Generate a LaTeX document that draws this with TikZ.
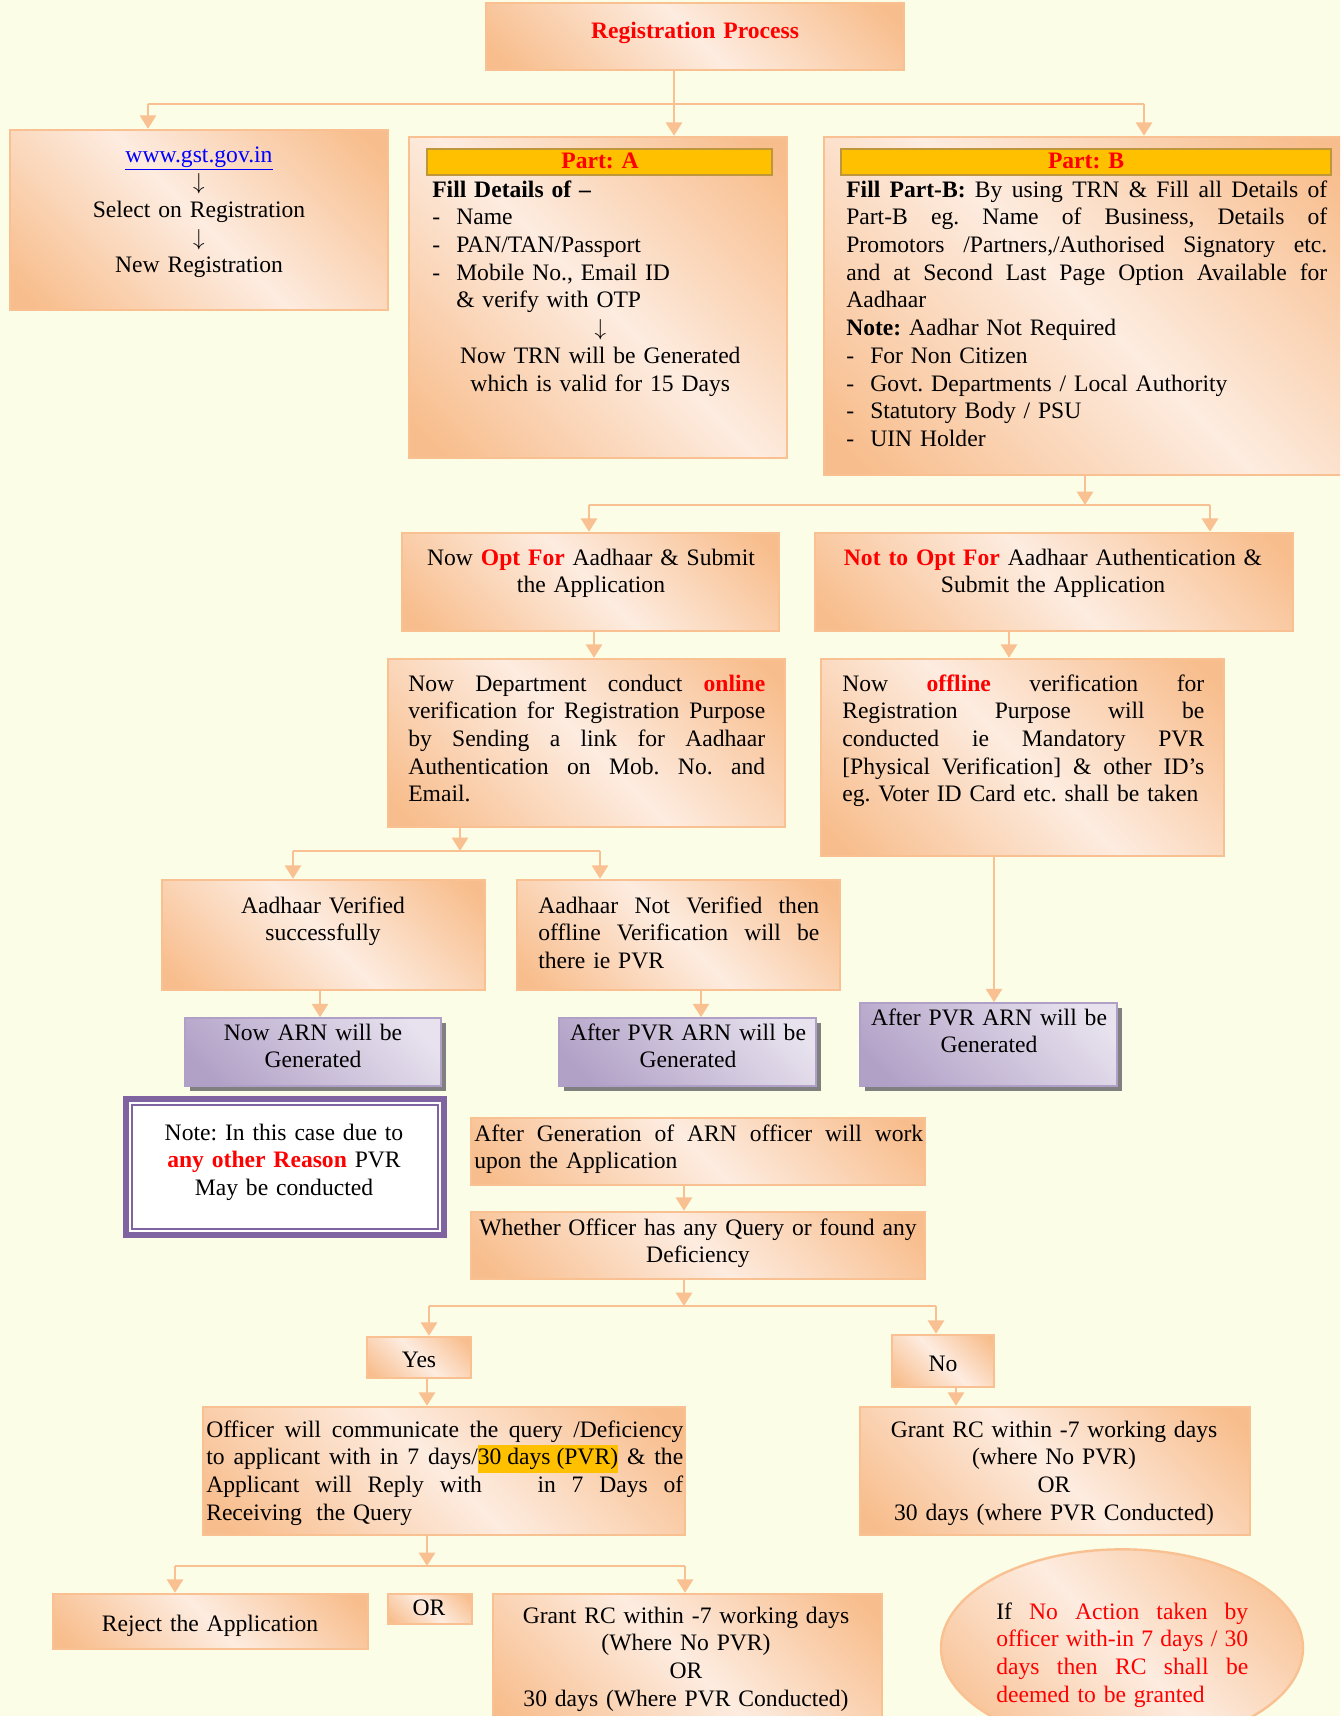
\documentclass[tikz,border=0pt]{standalone}
\usepackage{fontspec}
\setmainfont{Liberation Serif}
\usetikzlibrary{arrows.meta,fit,shapes.geometric,shadows}

\definecolor{bg}{RGB}{252,253,230}
\definecolor{pk}{RGB}{248,189,140}
\definecolor{pl}{RGB}{253,236,224}
\definecolor{pline}{RGB}{249,193,146}
\definecolor{vk}{RGB}{178,161,199}
\definecolor{vl}{RGB}{231,226,238}
\definecolor{vline}{RGB}{176,160,200}
\definecolor{vframe}{RGB}{128,100,162}
\definecolor{hdr}{RGB}{255,192,0}
\definecolor{hdrline}{RGB}{190,150,60}
\definecolor{shade}{RGB}{128,128,128}
\definecolor{rd}{RGB}{255,0,0}
\definecolor{lnk}{RGB}{0,0,255}

\pgfdeclareverticalshading{peach}{100bp}{color(0bp)=(pk); color(18bp)=(pk); color(50bp)=(pl); color(82bp)=(pk); color(100bp)=(pk)}
\pgfdeclareverticalshading{lilac}{100bp}{color(0bp)=(vk); color(22bp)=(vk); color(78bp)=(vl); color(100bp)=(vl)}

% red bold emphasis
\newcommand\rt[1]{\textcolor{rd}{\textbf{#1}}}
% one fully justified line: the word spaces stretch to fill the width
\newcommand\jl[1]{\leavevmode\hbox to \linewidth{\spaceskip=0.25em plus 1fil\relax\xspaceskip=\spaceskip #1}}
% highlighted words
\newcommand\hlt[1]{{\setlength{\fboxsep}{0pt}\colorbox{hdr}{\strut#1}}}
% list entry with a leading dash
\newcommand\dashitem[1]{\makebox[18pt][l]{-}#1}
% long thin down arrow
\newcommand\dnar{$\downarrow$}
% box node spanning two corners: \bx[style]{name}{x1}{y1}{x2}{y2}
\newcommand\bx[6][pbox]{\node[#1, fit={(#3,#4) (#5,#6)}] (#2) {};}

\tikzset{
  pbox/.style={draw=pline, line width=1.8pt, shading=peach, shading angle=-45, inner sep=0pt},
  vbox/.style={draw=vline, line width=1.2pt, shading=lilac, shading angle=-45, inner sep=0pt,
    drop shadow={shadow xshift=3.5pt, shadow yshift=-3.5pt, fill=shade, opacity=1}},
  hbar/.style={draw=hdrline, line width=0.8pt, fill=hdr, inner sep=0pt},
  nbox/.style={draw=vframe, line width=4.5pt, fill=white, inner sep=0pt},
  pell/.style={ellipse, draw=pline, line width=1.8pt, shading=peach, shading angle=-45, inner sep=0pt},
  conn/.style={draw=pline, line width=2pt},
  arr/.style={conn, -{Triangle[width=12pt,length=10pt]}},
  txt/.style={inner sep=0pt, font=\fontsize{17.7}{20.8}\selectfont\frenchspacing, anchor=base},
  ctxt/.style={txt, align=center, text width=#1},
  ltxt/.style={txt, align=left, text width=#1, anchor=base west},
}

\begin{document}
\begin{tikzpicture}[x=0.75pt,y=-0.75pt]
\useasboundingbox (0,0) rectangle (1340,1716);
\fill[bg] (0,0) rectangle (1340,1716);
\clip (0,0) rectangle (1340,1716);

% ---------- boxes ----------
\bx{title}{486}{3}{904}{70}
\bx{gst}{10}{130}{388}{310}
\bx{partA}{409}{137}{787}{458}
\bx[hbar]{hdrA}{427}{149}{772}{175}
\bx{partB}{824}{137}{1352}{475}
\bx[hbar]{hdrB}{841}{149}{1331}{175}
\bx{opt}{402}{533}{779}{631}
\bx{nopt}{815}{533}{1293}{631}
\bx{online}{388}{659}{785}{827}
\bx{offline}{821}{659}{1224}{856}
\bx{ver}{162}{880}{485}{990}
\bx{nver}{517}{880}{840}{990}
\bx[vbox]{arn1}{185}{1018}{441}{1086}
\bx[vbox]{arn2}{559}{1018}{816}{1086}
\bx[vbox]{arn3}{860}{1003}{1117}{1086}
\bx[nbox]{note}{126}{1099}{444}{1235}
\draw[vframe, line width=1.5pt] ([shift={(9,9)}]note.north west) rectangle ([shift={(-9,-9)}]note.south east);
\bx{after}{471}{1118}{925}{1185}
\bx{whether}{471}{1212}{925}{1279}
\bx{yes}{367}{1337}{471}{1378}
\bx{no}{892}{1335}{994}{1387}
\bx{officer}{203}{1407}{685}{1535}
\bx{grant1}{860}{1407}{1250}{1535}
\bx{reject}{53}{1594}{368}{1649}
\bx{or}{388}{1594}{472}{1624}
\bx{grant2}{493}{1594}{882}{1730}
\node[pell, minimum width=271.5pt, minimum height=148pt] (noact) at (1122,1648) {};

% ---------- texts ----------
\node[ctxt=300pt] (title-t) at (695,39) {\rt{Registration Process}};
\node[ctxt=260pt] (gst-t) at (199,162) {\textcolor{lnk}{\underline{www.gst.gov.in}}\\\dnar\\Select on Registration\\\dnar\\New Registration};

\node[ctxt=200pt] (hdrA-t) at (600,169) {\rt{Part: A}};
\node[ltxt=252pt] (partA-t) at (432,197) {\textbf{Fill Details of –}\\
  \dashitem{Name}\\
  \dashitem{PAN/TAN/Passport}\\
  \dashitem{Mobile No., Email ID}\\
  \hspace*{18pt}\& verify with OTP\\
  \makebox[\linewidth]{\dnar}\\
  \makebox[\linewidth]{Now TRN will be Generated}\\
  \makebox[\linewidth]{which is valid for 15 Days}};

\node[ctxt=200pt] (hdrB-t) at (1086,169) {\rt{Part: B}};
\node[ltxt=360.75pt] (partB-t) at (846,197) {\jl{\textbf{Fill Part-B:} By using TRN \& Fill all Details of}\\
  \jl{Part-B eg. Name of Business, Details of}\\
  \jl{Promotors /Partners,/Authorised Signatory etc.}\\
  \jl{and at Second Last Page Option Available for}\\
  Aadhaar\\
  \textbf{Note:} Aadhar Not Required\\
  \dashitem{For Non Citizen}\\
  \dashitem{Govt. Departments / Local Authority}\\
  \dashitem{Statutory Body / PSU}\\
  \dashitem{UIN Holder}};

\node[ctxt=270pt] (opt-t) at (591,565) {Now \rt{Opt For} Aadhaar \& Submit\\the Application};
\node[ctxt=340pt] (nopt-t) at (1053,565) {\rt{Not to Opt For} Aadhaar Authentication \&\\Submit the Application};

\node[ltxt=267.75pt] (online-t) at (408,691) {\jl{Now Department conduct \rt{online}}\\
  \jl{verification for Registration Purpose}\\
  \jl{by Sending a link for Aadhaar}\\
  \jl{Authentication on Mob. No. and}\\
  Email.};
\node[ltxt=271.5pt] (offline-t) at (842,691) {\jl{Now \rt{offline} verification for}\\
  \jl{Registration Purpose will be}\\
  \jl{conducted ie Mandatory PVR}\\
  \jl{[Physical Verification] \& other ID’s}\\
  \mbox{eg. Voter ID Card etc. shall be taken}};

\node[ctxt=220pt] (ver-t) at (323,913) {Aadhaar Verified\\successfully};
\node[ltxt=210.75pt] (nver-t) at (538,913) {\jl{Aadhaar Not Verified then}\\
  \jl{offline Verification will be}\\
  there ie PVR};

\node[ctxt=180pt] (arn1-t) at (313,1040) {Now ARN will be\\Generated};
\node[ctxt=180pt] (arn2-t) at (688,1040) {After PVR ARN will be\\Generated};
\node[ctxt=180pt] (arn3-t) at (989,1025) {After PVR ARN will be\\Generated};

\node[ctxt=220pt] (note-t) at (284,1140) {Note: In this case due to\\\rt{any other Reason} PVR\\May be conducted};

\node[ltxt=336.75pt] (after-t) at (474,1141) {\jl{After Generation of ARN officer will work}\\upon the Application};
\node[ctxt=340pt] (whether-t) at (698,1235) {Whether Officer has any Query or found any\\Deficiency};

\node[ctxt=60pt] (yes-t) at (419,1367) {Yes};
\node[ctxt=60pt] (no-t) at (943,1371) {No};

\node[ltxt=357.75pt] (officer-t) at (206,1437) {\jl{Officer will communicate the query /Deficiency}\\
  \jl{to applicant with in 7 days/\hlt{30 days (PVR)} \& the}\\
  \jl{Applicant will Reply with\hspace{30pt} in 7 Days of}\\
  Receiving\hspace{5pt} the Query};
\node[ctxt=280pt] (grant1-t) at (1054,1437) {Grant RC within -7 working days\\(where No PVR)\\OR\\30 days (where PVR Conducted)};

\node[ctxt=220pt] (reject-t) at (210,1631) {Reject the Application};
\node[ctxt=60pt] (or-t) at (429,1615) {OR};
\node[ctxt=280pt] (grant2-t) at (686,1623) {Grant RC within -7 working days\\(Where No PVR)\\OR\\30 days (Where PVR Conducted)};

\node[ltxt=189pt] (noact-t) at (996,1619) {\jl{If \textcolor{rd}{No Action taken by}}\\
  \color{rd}\jl{officer with-in 7 days / 30}\\
  \jl{days then RC shall be}\\
  deemed to be granted};

% ---------- connectors ----------
\coordinate (s1) at (674,104);
\coordinate (s1l) at (148,104);
\coordinate (s1r) at (1144,104);
\draw[conn] (title.south -| s1) -- (s1);
\draw[conn] (s1l) -- (s1r);
\draw[arr] (s1l) -- (s1l |- gst.north);
\draw[arr] (s1) -- (s1 |- partA.north);
\draw[arr] (s1r) -- (s1r |- partB.north);

\coordinate (s2) at (1085,505);
\coordinate (s2l) at (589,505);
\coordinate (s2r) at (1210,505);
\draw[arr] (partB.south -| s2) -- (s2);
\draw[conn] (s2l) -- (s2r);
\draw[arr] (s2l) -- (s2l |- opt.north);
\draw[arr] (s2r) -- (s2r |- nopt.north);

\coordinate (v1) at (594,645);
\draw[arr] (v1 |- opt.south) -- (v1 |- online.north);
\coordinate (v2) at (1009,645);
\draw[arr] (v2 |- nopt.south) -- (v2 |- offline.north);

\coordinate (s3) at (460,851);
\coordinate (s3l) at (293,851);
\coordinate (s3r) at (600,851);
\draw[arr] (online.south -| s3) -- (s3);
\draw[conn] (s3l) -- (s3r);
\draw[arr] (s3l) -- (s3l |- ver.north);
\draw[arr] (s3r) -- (s3r |- nver.north);

\coordinate (v3) at (320,1000);
\draw[arr] (v3 |- ver.south) -- (v3 |- arn1.north);
\coordinate (v4) at (701,1000);
\draw[arr] (v4 |- nver.south) -- (v4 |- arn2.north);
\coordinate (v5) at (994,900);
\draw[arr] (v5 |- offline.south) -- (v5 |- arn3.north);

\coordinate (v6) at (684,1200);
\draw[arr] (v6 |- after.south) -- (v6 |- whether.north);

\coordinate (s4) at (684,1306);
\coordinate (s4l) at (429,1306);
\coordinate (s4r) at (936,1306);
\draw[arr] (whether.south -| s4) -- (s4);
\draw[conn] (s4l) -- (s4r);
\draw[arr] (s4l) -- (s4l |- yes.north);
\draw[arr] (s4r) -- (s4r |- no.north);

\coordinate (v7) at (427,1390);
\draw[arr] (v7 |- yes.south) -- (v7 |- officer.north);
\coordinate (v8) at (956,1395);
\draw[arr] (v8 |- no.south) -- (v8 |- grant1.north);

\coordinate (s5) at (427,1566);
\coordinate (s5l) at (175,1566);
\coordinate (s5r) at (685,1566);
\draw[arr] (officer.south -| s5) -- (s5);
\draw[conn] (s5l) -- (s5r);
\draw[arr] (s5l) -- (s5l |- reject.north);
\draw[arr] (s5r) -- (s5r |- grant2.north);
\end{tikzpicture}
\end{document}
